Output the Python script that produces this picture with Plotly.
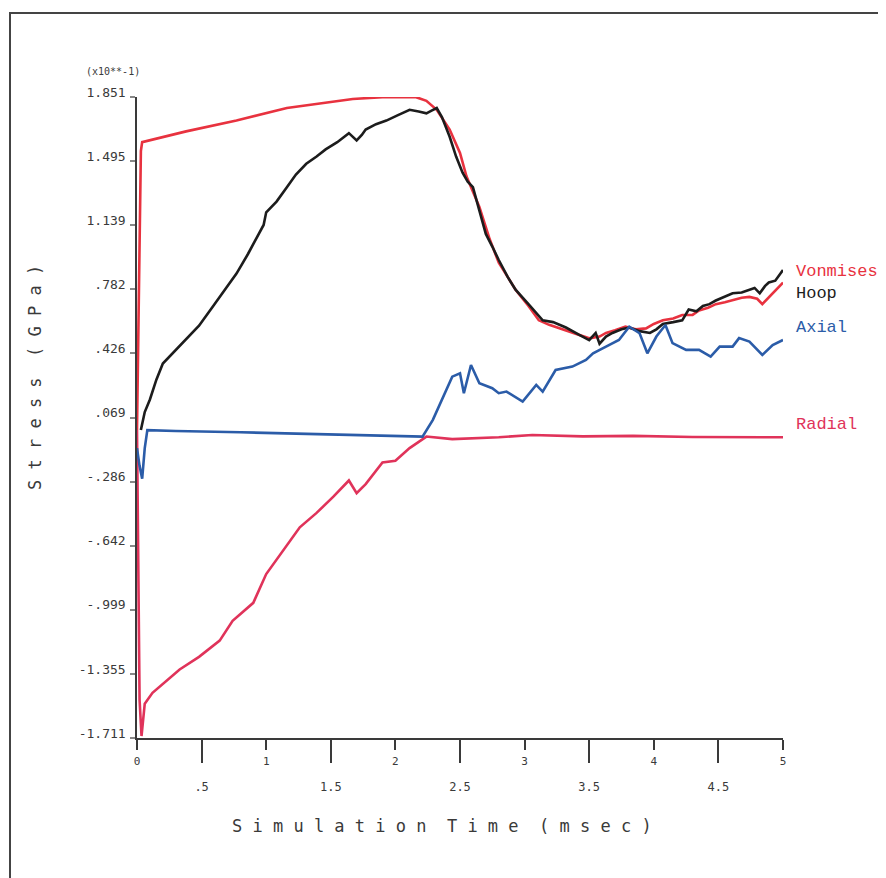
import plotly.graph_objects as go

# ---------------- data ----------------
vonmises_t = [0.00, 0.03, 0.04, 0.38, 0.77, 1.16, 1.67, 1.90, 2.05, 2.16,
              2.24, 2.32, 2.42, 2.50, 2.55, 2.65, 2.73, 2.80, 2.87, 2.93,
              3.03, 3.11, 3.19, 3.32, 3.42, 3.50, 3.58, 3.63, 3.70, 3.78,
              3.86, 3.94, 4.00, 4.07, 4.15, 4.22, 4.30, 4.35, 4.42, 4.48,
              4.55, 4.61, 4.68, 4.74, 4.80, 4.84, 4.92, 5.00]
vonmises_s = [0.00, 1.55, 1.60, 1.66, 1.72, 1.79, 1.84, 1.85, 1.85, 1.85,
              1.83, 1.78, 1.67, 1.54, 1.41, 1.24, 1.06, 0.93, 0.85, 0.78,
              0.69, 0.61, 0.585, 0.555, 0.53, 0.51, 0.52, 0.54, 0.555, 0.575,
              0.56, 0.565, 0.59, 0.61, 0.62, 0.64, 0.64, 0.665, 0.68, 0.70,
              0.71, 0.72, 0.735, 0.74, 0.73, 0.70, 0.76, 0.82]

hoop_t = [0.03, 0.06, 0.10, 0.15, 0.20, 0.28, 0.38, 0.48, 0.59, 0.68,
          0.77, 0.86, 0.95, 0.98, 1.00, 1.08, 1.16, 1.23, 1.31, 1.39,
          1.46, 1.55, 1.64, 1.67, 1.70, 1.74, 1.77, 1.85, 1.93, 2.02,
          2.11, 2.18, 2.24, 2.28, 2.32, 2.36, 2.42, 2.47, 2.52, 2.56,
          2.60, 2.65, 2.70, 2.75, 2.80, 2.87, 2.93, 3.03, 3.14, 3.22,
          3.32, 3.42, 3.50, 3.55, 3.58, 3.63, 3.68, 3.75, 3.81, 3.89,
          3.97, 4.02, 4.07, 4.15, 4.22, 4.27, 4.33, 4.38, 4.43, 4.48,
          4.55, 4.61, 4.68, 4.74, 4.78, 4.82, 4.86, 4.89, 4.94, 5.00]
hoop_s = [0.00, 0.10, 0.17, 0.28, 0.37, 0.43, 0.50, 0.58, 0.69, 0.78,
          0.87, 0.98, 1.10, 1.14, 1.21, 1.27, 1.35, 1.42, 1.48, 1.52,
          1.56, 1.60, 1.65, 1.63, 1.61, 1.64, 1.67, 1.70, 1.72, 1.75,
          1.78, 1.77, 1.76, 1.775, 1.79, 1.74, 1.63, 1.52, 1.43, 1.38,
          1.35, 1.22, 1.09, 1.02, 0.945, 0.85, 0.78, 0.70, 0.61, 0.60,
          0.57, 0.53, 0.50, 0.54, 0.48, 0.52, 0.54, 0.56, 0.57, 0.55,
          0.54, 0.56, 0.59, 0.60, 0.61, 0.67, 0.66, 0.69, 0.70, 0.72,
          0.74, 0.76, 0.765, 0.78, 0.79, 0.76, 0.80, 0.82, 0.83, 0.89]

axial_t = [0.00, 0.02, 0.04, 0.06, 0.08, 0.30, 0.80, 1.30, 1.80, 2.21,
           2.29, 2.37, 2.44, 2.50, 2.53, 2.585, 2.65, 2.75, 2.80, 2.86,
           2.985, 3.09, 3.14, 3.24, 3.37, 3.475, 3.53, 3.63, 3.73, 3.81,
           3.89, 3.95, 4.02, 4.09, 4.145, 4.25, 4.35, 4.44, 4.51, 4.61,
           4.66, 4.74, 4.84, 4.92, 5.00]
axial_s = [-0.10, -0.20, -0.27, -0.10, 0.00, -0.005, -0.012, -0.02, -0.03, -0.036,
           0.057, 0.186, 0.297, 0.316, 0.205, 0.362, 0.26, 0.233, 0.205, 0.214,
           0.158, 0.251, 0.214, 0.334, 0.353, 0.39, 0.427, 0.464, 0.501, 0.575,
           0.538, 0.427, 0.52, 0.584, 0.483, 0.446, 0.446, 0.408, 0.464, 0.464,
           0.511, 0.492, 0.418, 0.473, 0.501]

radial_t = [0.00, 0.02, 0.035, 0.06, 0.12, 0.23, 0.33, 0.48, 0.64, 0.74,
            0.90, 1.00, 1.13, 1.26, 1.39, 1.52, 1.64, 1.70, 1.77, 1.90,
            2.00, 2.11, 2.24, 2.44, 2.80, 3.06, 3.45, 3.84, 4.30, 5.00]
radial_s = [0.00, -1.50, -1.70, -1.52, -1.46, -1.39, -1.33, -1.26, -1.17, -1.06,
            -0.96, -0.80, -0.67, -0.54, -0.46, -0.37, -0.28, -0.35, -0.30, -0.18,
            -0.17, -0.10, -0.036, -0.05, -0.04, -0.027, -0.035, -0.032, -0.038, -0.04]

y_ticks = [1.851, 1.495, 1.139, 0.782, 0.426, 0.069, -0.286, -0.642, -0.999, -1.355, -1.711]
y_tick_text = ["1.851", "1.495", "1.139", ".782", ".426", ".069", "-.286", "-.642", "-.999", "-1.355", "-1.711"]
x_major = [0, 1, 2, 3, 4, 5]
x_major_text = ["0", "1", "2", "3", "4", "5"]
x_minor = [0.5, 1.5, 2.5, 3.5, 4.5]
x_minor_text = [".5", "1.5", "2.5", "3.5", "4.5"]

series_names = ["Vonmises", "Hoop", "Axial", "Radial"]
label_y = [0.879, 0.757, 0.568, 0.029]

# ---------------- styling ----------------
RED = "#e8323f"
RED2 = "#e0335a"
BLACK = "#1c1c1c"
BLUE = "#2b5ca8"
AXC = "#3a3a3a"
MONO = "DejaVu Sans Mono"

fig = go.Figure()
fig.add_trace(go.Scatter(x=radial_t, y=radial_s, mode="lines", name="Radial",
                         line=dict(color=RED2, width=2.6)))
fig.add_trace(go.Scatter(x=vonmises_t, y=vonmises_s, mode="lines", name="Vonmises",
                         line=dict(color=RED, width=2.6)))
fig.add_trace(go.Scatter(x=axial_t, y=axial_s, mode="lines", name="Axial",
                         line=dict(color=BLUE, width=2.6), xaxis="x2"))
fig.add_trace(go.Scatter(x=hoop_t, y=hoop_s, mode="lines", name="Hoop",
                         line=dict(color=BLACK, width=2.6)))

# the page body has an 8px default margin: shrink the figure accordingly
OFF = 8
W, H = 886 - OFF, 878 - OFF
L, T = 137 - OFF, 97 - OFF
pw, ph = 646, 641
R, B = W - L - pw, H - T - ph

fig.update_layout(
    width=W, height=H,
    margin=dict(l=L, r=R, t=T, b=B, pad=0),
    paper_bgcolor="white", plot_bgcolor="white",
    showlegend=False,
    xaxis=dict(range=[0, 5], tickmode="array", tickvals=x_major, ticktext=x_major_text,
               ticks="outside", ticklen=10, tickwidth=1.5, tickcolor=AXC,
               showline=True, linecolor=AXC, linewidth=1.5, showgrid=False, zeroline=False,
               tickfont=dict(family=MONO, size=11, color=AXC), ticklabelstandoff=2),
    xaxis2=dict(range=[0, 5], overlaying="x", anchor="y", side="bottom",
                tickmode="array", tickvals=x_minor, ticktext=x_minor_text,
                ticks="outside", ticklen=24, tickwidth=1.5, tickcolor=AXC,
                showline=False, showgrid=False, zeroline=False,
                tickfont=dict(family=MONO, size=12, color=AXC), ticklabelstandoff=14),
    yaxis=dict(range=[-1.711, 1.851], tickmode="array", tickvals=y_ticks, ticktext=y_tick_text,
               ticks="outside", ticklen=5, tickwidth=1.5, tickcolor="#888",
               showline=True, linecolor=AXC, linewidth=1.5, showgrid=False, zeroline=False,
               tickfont=dict(family=MONO, size=13, color=AXC), ticklabelshift=-5,
               ticklabelstandoff=2),
)

def px2paper_x(px):
    return (px - OFF - L) / pw

def py2paper_y(py):
    return (T + ph - (py - OFF)) / ph

colors = [RED, BLACK, BLUE, RED2]
for name, yv, c in zip(series_names, label_y, colors):
    fig.add_annotation(x=5, y=yv, xref="x", yref="y", text=name, showarrow=False,
                       xanchor="left", yanchor="middle", xshift=11,
                       font=dict(family="Liberation Mono", size=17, color=c))

fig.add_annotation(x=px2paper_x(35), y=py2paper_y(378), xref="paper", yref="paper",
                   text="S t r e s s  ( G P a )", textangle=-90, showarrow=False,
                   xanchor="center", yanchor="middle",
                   font=dict(family=MONO, size=17, color=AXC))
fig.add_annotation(x=px2paper_x(442), y=py2paper_y(826), xref="paper", yref="paper",
                   text="S i m u l a t i o n  T i m e  ( m s e c )", showarrow=False,
                   xanchor="center", yanchor="middle",
                   font=dict(family=MONO, size=17, color=AXC))
fig.add_annotation(x=px2paper_x(113), y=py2paper_y(72), xref="paper", yref="paper",
                   text="(x10**-1)", showarrow=False, xanchor="center", yanchor="middle",
                   font=dict(family=MONO, size=10, color=AXC))

# outer frame (top and left edges visible in the reference)
fig.add_shape(type="line", xref="paper", yref="paper",
              x0=px2paper_x(9), x1=px2paper_x(886), y0=py2paper_y(13), y1=py2paper_y(13),
              line=dict(color="#444", width=2))
fig.add_shape(type="line", xref="paper", yref="paper",
              x0=px2paper_x(10), x1=px2paper_x(10), y0=py2paper_y(13), y1=py2paper_y(878),
              line=dict(color="#444", width=2))

fig.write_html("out.html")
